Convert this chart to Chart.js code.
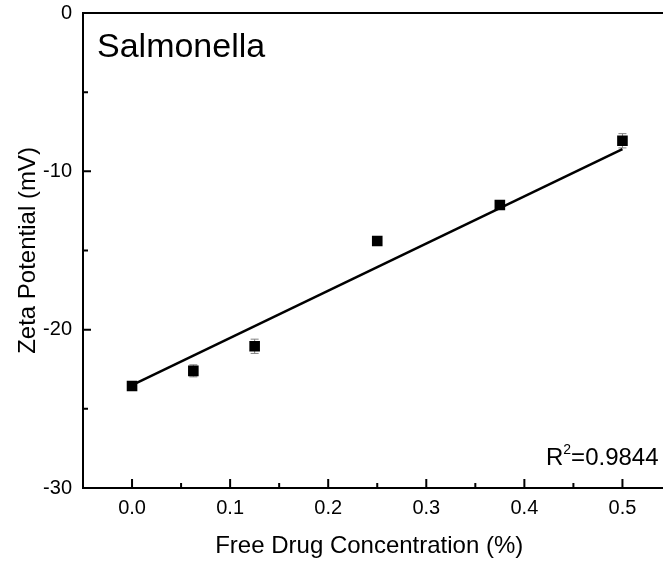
<!DOCTYPE html>
<html>
<head>
<meta charset="utf-8">
<script src="https://cdn.jsdelivr.net/npm/chart.js@4/dist/chart.umd.min.js"></script>
<style>
  html, body { margin: 0; padding: 0; background: #fff; overflow: hidden; }
  #wrap { width: 663px; height: 562px; }
</style>
</head>
<body>
<div id="wrap"><canvas id="c" width="663" height="562"></canvas></div>
<script>
// ---- data ----
const concentrations = [0, 0.0625, 0.125, 0.25, 0.375, 0.5];
const zetaMeans      = [-23.56, -22.6, -21.05, -14.4, -12.13, -8.07];
const zetaErrors     = [0.15, 0.38, 0.45, 0.15, 0.15, 0.45];
const fitX = [0, 0.5];
const fitY = [-23.5, -8.6];
const xTicks = [0, 0.1, 0.2, 0.3, 0.4, 0.5];
const xMinorTicks = [0.05, 0.15, 0.25, 0.35, 0.45];
const yTicks = [-30, -20, -10, 0];
const yMinorTicks = [-25, -15, -5];
const panelLabel = 'Salmonella';
const r2Value = '0.9844';

const FONT = '"Liberation Sans", Arial, sans-serif';

const framePlugin = {
  id: 'frame',
  beforeDatasetsDraw(chart) {
    const { ctx, scales: { x, y } } = chart;
    ctx.save();
    ctx.strokeStyle = '#808080';
    ctx.lineWidth = 1;
    concentrations.forEach((cx, i) => {
      const px = x.getPixelForValue(cx);
      const pt = y.getPixelForValue(zetaMeans[i] + zetaErrors[i]);
      const pb = y.getPixelForValue(zetaMeans[i] - zetaErrors[i]);
      ctx.beginPath();
      ctx.moveTo(px, pt); ctx.lineTo(px, pb);
      ctx.moveTo(px - 4, pt); ctx.lineTo(px + 4, pt);
      ctx.moveTo(px - 4, pb); ctx.lineTo(px + 4, pb);
      ctx.stroke();
    });
    ctx.restore();
  },
  afterDraw(chart) {
    const { ctx, chartArea: a, scales: { x, y } } = chart;
    ctx.save();
    ctx.strokeStyle = '#000';
    ctx.lineWidth = 2;
    ctx.beginPath();
    ctx.moveTo(chart.width, a.top); ctx.lineTo(a.left, a.top);
    ctx.lineTo(a.left, a.bottom); ctx.lineTo(chart.width, a.bottom);
    ctx.stroke();
    ctx.beginPath();
    x.ticks.forEach(t => { const p = x.getPixelForValue(t.value); ctx.moveTo(p, a.bottom); ctx.lineTo(p, a.bottom - 9); });
    xMinorTicks.forEach(v => { const p = x.getPixelForValue(v); ctx.moveTo(p, a.bottom); ctx.lineTo(p, a.bottom - 5); });
    y.ticks.forEach(t => { const p = y.getPixelForValue(t.value); ctx.moveTo(a.left, p); ctx.lineTo(a.left + 8, p); });
    yMinorTicks.forEach(v => { const p = y.getPixelForValue(v); ctx.moveTo(a.left, p); ctx.lineTo(a.left + 5, p); });
    ctx.stroke();
    ctx.fillStyle = '#000';
    ctx.textBaseline = 'alphabetic';
    ctx.textAlign = 'left';
    ctx.font = '34px ' + FONT;
    ctx.fillText(panelLabel, a.left + 14, 57);
    const base = 465;
    let px = 546;
    ctx.font = '24px ' + FONT;
    ctx.fillText('R', px, base); px += ctx.measureText('R').width;
    ctx.font = '14px ' + FONT;
    ctx.fillText('2', px, base - 11); px += ctx.measureText('2').width;
    ctx.font = '24px ' + FONT;
    ctx.fillText('=' + r2Value, px, base);
    ctx.restore();
  }
};

new Chart(document.getElementById('c'), {
  type: 'scatter',
  data: {
    datasets: [
      {
        label: 'data',
        data: concentrations.map((cx, i) => ({ x: cx, y: zetaMeans[i] })),
        pointStyle: 'rect',
        pointRadius: 7.5,
        pointHoverRadius: 7.5,
        backgroundColor: '#000',
        borderColor: '#000',
        borderWidth: 0,
        order: 0
      },
      {
        type: 'line',
        label: 'fit',
        data: fitX.map((fx, i) => ({ x: fx, y: fitY[i] })),
        borderColor: '#000',
        borderWidth: 2.5,
        pointRadius: 0,
        fill: false,
        order: 1
      }
    ]
  },
  options: {
    responsive: false,
    animation: false,
    devicePixelRatio: 1,
    layout: { padding: { top: 13, right: 0, left: 0, bottom: 0 } },
    plugins: { legend: { display: false }, tooltip: { enabled: false } },
    scales: {
      x: {
        type: 'linear',
        min: -0.05,
        max: 0.5337,
        afterBuildTicks: s => { s.ticks = xTicks.map(v => ({ value: v })); },
        afterFit: s => { s.height = 74; s.paddingLeft = 0; s.paddingRight = 0; },
        grid: { display: false, drawTicks: false },
        border: { display: false },
        ticks: {
          padding: 8,
          color: '#000',
          font: { family: FONT, size: 20 },
          callback: v => Number(v).toFixed(1)
        },
        title: {
          display: true,
          text: 'Free Drug Concentration (%)',
          color: '#000',
          font: { family: FONT, size: 24 },
          padding: { top: 0, bottom: 1 }
        }
      },
      y: {
        type: 'linear',
        min: -30,
        max: 0,
        afterBuildTicks: s => { s.ticks = yTicks.map(v => ({ value: v })); },
        afterFit: s => { s.width = 83; s.paddingTop = 0; s.paddingBottom = 0; },
        grid: { display: false, drawTicks: false },
        border: { display: false },
        ticks: {
          padding: 11,
          color: '#000',
          font: { family: FONT, size: 20 },
          callback: v => String(v)
        },
        title: {
          display: true,
          text: 'Zeta Potential (mV)',
          color: '#000',
          font: { family: FONT, size: 24 },
          padding: { top: 14, bottom: 0 }
        }
      }
    }
  },
  plugins: [framePlugin]
});
</script>
</body>
</html>
